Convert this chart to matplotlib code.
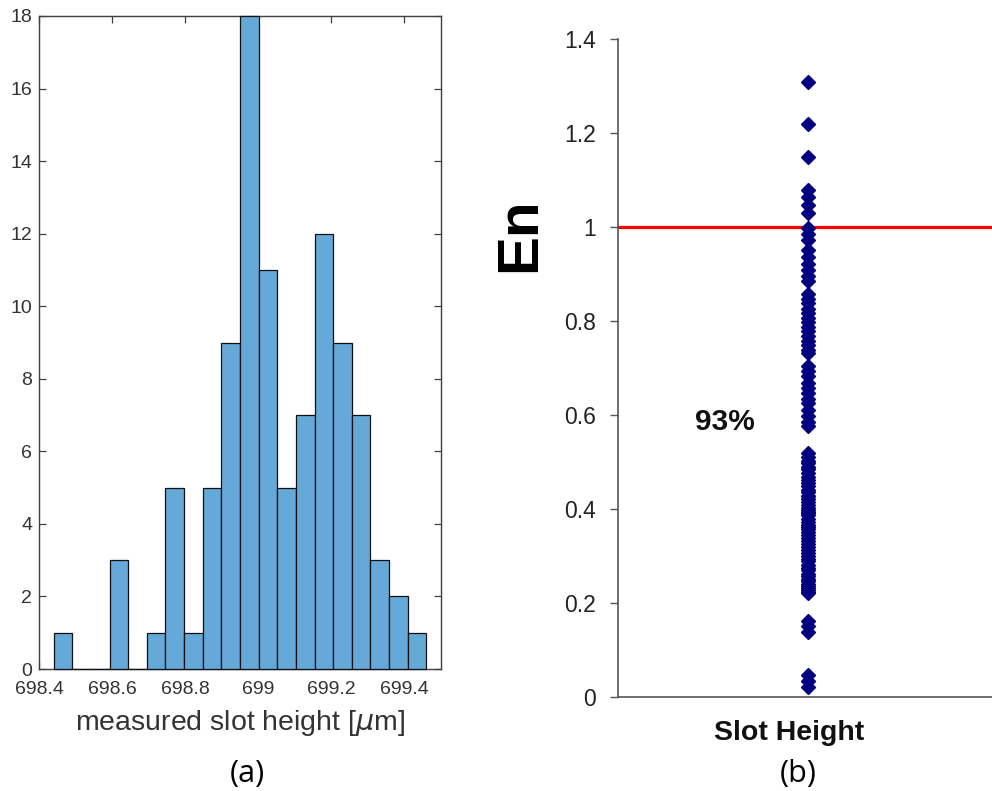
import numpy as np
import matplotlib
matplotlib.use("Agg")
import matplotlib.pyplot as plt

# ---- data -------------------------------------------------------------
# histogram of measured slot heights (um): bin edges and counts
bin_edges = [698.440, 698.491, 698.542, 698.593, 698.644, 698.695, 698.746,
             698.797, 698.848, 698.899, 698.950, 699.001, 699.052, 699.103,
             699.154, 699.205, 699.256, 699.307, 699.358, 699.409, 699.460]
bin_counts = [1, 0, 0, 3, 0, 1, 5, 1, 5, 9, 18, 11, 5, 7, 12, 9, 7, 3, 2, 1]
hist_xticks = [698.4, 698.6, 698.8, 699.0, 699.2, 699.4]
hist_yticks = [0, 2, 4, 6, 8, 10, 12, 14, 16, 18]

# normalised error En for each slot height comparison
en_values = [
    1.31, 1.22, 1.15, 1.08, 1.065, 1.048, 1.03,
    0.998, 0.985, 0.972,
    0.952, 0.937, 0.921, 0.909, 0.896, 0.886,
    0.858, 0.847, 0.838, 0.826, 0.817, 0.806, 0.797, 0.788, 0.779, 0.768,
    0.758, 0.749, 0.739, 0.731,
    0.705, 0.694, 0.683, 0.669, 0.657, 0.646, 0.634, 0.625, 0.611, 0.598,
    0.586, 0.577,
    0.519, 0.511, 0.503, 0.497, 0.489, 0.484, 0.476, 0.468, 0.461, 0.455,
    0.449, 0.441, 0.436, 0.428, 0.421, 0.415, 0.409, 0.402, 0.398, 0.391,
    0.386, 0.379, 0.372, 0.366, 0.358, 0.351, 0.344, 0.339, 0.332, 0.326,
    0.319, 0.313, 0.305, 0.299, 0.293, 0.288, 0.281, 0.275, 0.269, 0.262,
    0.258, 0.251, 0.247, 0.241, 0.236, 0.232, 0.228, 0.224, 0.221, 0.394,
    0.362, 0.427,
    0.162, 0.150, 0.138,
    0.046, 0.033, 0.021,
]
en_limit = 1.0
en_yticks = [0, 0.2, 0.4, 0.6, 0.8, 1.0, 1.2, 1.4]
en_category = ["Slot Height"]
share_label = "93%"

# ---- figure -----------------------------------------------------------
plt.rcParams["font.family"] = ["Liberation Sans", "DejaVu Sans"]
fig = plt.figure(figsize=(9.92, 7.91), dpi=100)

# (a) histogram
ax1 = fig.add_axes([39 / 992, 1 - 669 / 791, 402 / 992, 653 / 791])
edges = np.asarray(bin_edges)
ax1.bar(edges[:-1], bin_counts, width=np.diff(edges), align="edge",
        color="#64a9d8", edgecolor="#111111", linewidth=0.9, zorder=3,
        clip_on=False)
ax1.set_xlim(698.4, 699.5)
ax1.set_ylim(0, 18)
ax1.set_xticks(hist_xticks)
ax1.set_xticklabels([f"{v:g}" for v in hist_xticks])
ax1.set_yticks(hist_yticks)
ax1.tick_params(direction="in", length=5, width=0.9, colors="#404040",
                labelcolor="#333333", labelsize=14, top=True, right=True)
ax1.tick_params(axis="x", pad=9)
ax1.tick_params(axis="y", pad=5)
for sp in ax1.spines.values():
    sp.set_color("#404040")
    sp.set_linewidth(1.0)
ax1.set_xlabel("measured slot height [$\\mu$m]", fontsize=20.5,
               color="#333333", labelpad=7)

# (b) En scatter
ax2 = fig.add_axes([618 / 992, 1 - 696.7 / 791, 1 - 618 / 992, 657.4 / 791])
ax2.set_xlim(0, 1)
ax2.set_ylim(0, 1.4)
ax2.axhline(en_limit, color="#ff0000", linewidth=2.3, zorder=2)
ax2.plot(np.full(len(en_values), 0.508), en_values, linestyle="none",
         marker="D", markersize=7.3, color="#000080", zorder=3)
ax2.set_yticks(en_yticks)
ax2.set_yticklabels([f"{v:g}" for v in en_yticks])
ax2.set_xticks([0.457])
ax2.set_xticklabels(en_category, fontweight="bold", fontsize=20.5)
ax2.tick_params(axis="x", length=0, pad=17, labelcolor="#111111")
ax2.tick_params(axis="y", direction="out", length=6, width=1.0,
                colors="#555555", labelcolor="#222222", labelsize=16.5,
                pad=10)
for side in ("top", "right"):
    ax2.spines[side].set_visible(False)
for side in ("left", "bottom"):
    ax2.spines[side].set_color("#555555")
    ax2.spines[side].set_linewidth(1.2)
ax2.text(0.286, 0.586, share_label, fontsize=21.5, fontweight="bold",
         color="#111111", ha="center", va="center")

# y-axis title of panel (b)
fig.text(520 / 992, 1 - 235 / 791, "En", rotation=90, fontsize=42,
         fontweight="bold", color="#000000", ha="center", va="center")

# panel captions
fig.text(247 / 992, 1 - 774 / 791, "(a)", fontsize=22, ha="center",
         va="center", family=["Open Sans", "DejaVu Sans"])
fig.text(798 / 992, 1 - 774 / 791, "(b)", fontsize=22, ha="center",
         va="center", family=["Open Sans", "DejaVu Sans"])

fig.savefig("out.png", dpi=100)
